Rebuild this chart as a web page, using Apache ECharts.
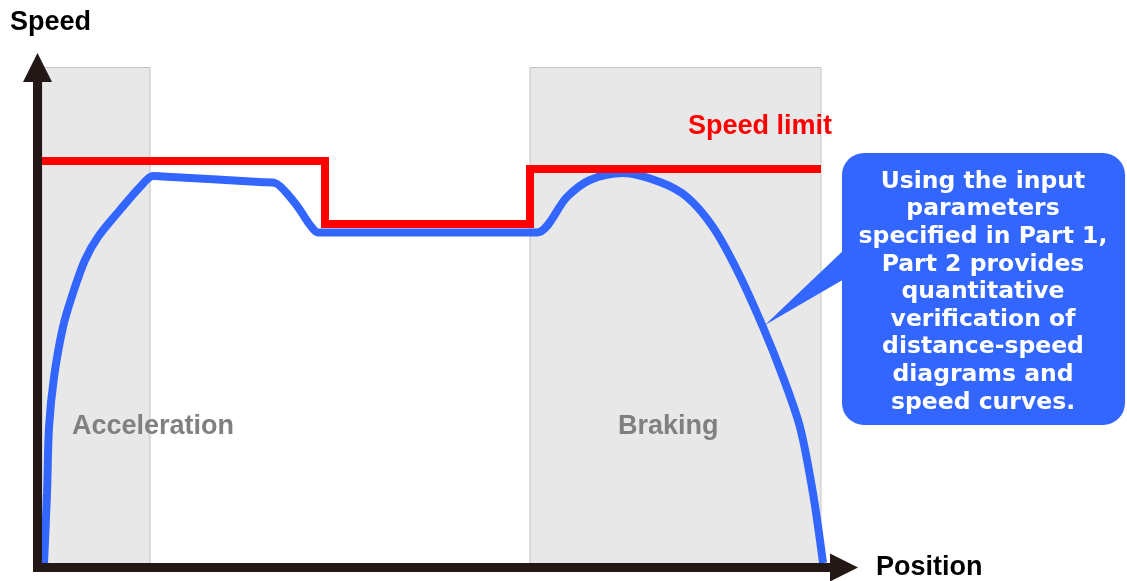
<!DOCTYPE html>
<html>
<head>
<meta charset="utf-8">
<script src="https://cdn.jsdelivr.net/npm/echarts@6/dist/echarts.min.js"></script>
<style>
html,body{margin:0;padding:0;background:#fff;}
#chart{width:1127px;height:581px;}
</style>
</head>
<body>
<div id="chart"></div>
<script>
// Speed limit (step line): position vs speed
const limitPos   = [0.56, 35.65, 35.65, 61.07, 61.07, 97.15];
const limitSpeed = [81.3, 81.3, 68.7, 68.7, 79.7, 79.7];

// Speed curve (blue)
const curvePos   = [0.81, 1.18, 1.43, 2.05, 3.16, 4.40, 5.89, 7.50, 10.23, 12.71, 14.32, 15.5, 28.0, 29.45, 31.31, 32.55, 33.79, 34.78, 40.0, 57.0, 61.93, 65.65, 68.50, 72.60, 77.18, 80.53, 83.75, 86.73, 89.95, 92.43, 94.54, 96.15, 97.40];
const curveSpeed = [0.9, 14.9, 28.1, 38.1, 48.1, 54.9, 61.5, 66.1, 71.5, 76.1, 78.3, 78.2, 77.05, 76.9, 74.1, 71.5, 68.5, 67.0, 67.0, 67.0, 67.0, 74.1, 77.5, 78.9, 77.1, 74.1, 68.1, 59.5, 48.1, 38.1, 28.1, 14.9, 0.9];

// Shaded zones
const zoneStart  = [0.56, 61.07];
const zoneEnd    = [13.95, 97.15];
const zoneLabels = ['Acceleration', 'Braking'];

const axisNames = ['Position', 'Speed'];
const limitLabel = 'Speed limit';
const calloutLines = [
  'Using the input',
  'parameters',
  'specified in Part 1,',
  'Part 2 provides',
  'quantitative',
  'verification of',
  'distance-speed',
  'diagrams and',
  'speed curves.'
];

const chart = echarts.init(document.getElementById('chart'), null, {renderer: 'canvas'});
const LAB_FONT = '"Liberation Sans", Arial, sans-serif';
const BLUE = '#3366FF';
const AXIS_COLOR = '#231815';

const option = {
  animation: false,
  backgroundColor: '#ffffff',
  grid: {left: 37.5, right: 283, top: 67.5, bottom: 13.5, containLabel: false},
  xAxis: {
    type: 'value', min: 0, max: 100, z: 10,
    name: axisNames[0], nameLocation: 'end', nameGap: 32,
    nameTextStyle: {color: '#000', fontSize: 27, fontWeight: 'bold', fontFamily: LAB_FONT, align: 'left', verticalAlign: 'middle'},
    axisLine: {show: true, onZero: false, symbol: ['none', 'triangle'], symbolSize: [28, 28],
      lineStyle: {color: AXIS_COLOR, width: 9, cap: 'square'}},
    axisTick: {show: false}, axisLabel: {show: false}, splitLine: {show: false}
  },
  yAxis: {
    type: 'value', min: 0, max: 100, z: 10,
    axisLine: {show: true, onZero: false, symbol: ['none', 'triangle'], symbolSize: [29, 29],
      lineStyle: {color: AXIS_COLOR, width: 9, cap: 'square'}},
    axisTick: {show: false}, axisLabel: {show: false}, splitLine: {show: false}
  },
  series: [
    {
      type: 'line', data: [], z: 1, silent: true,
      markArea: {
        silent: true,
        itemStyle: {color: '#e8e8e8', borderColor: '#c4c4c4', borderWidth: 1, opacity: 1},
        label: {show: false},
        data: zoneStart.map((s, i) => [{coord: [s, 0]}, {coord: [zoneEnd[i], 100]}])
      }
    },
    {
      type: 'line', name: 'Speed limit', z: 4, silent: true,
      data: limitPos.map((p, i) => [p, limitSpeed[i]]),
      showSymbol: false, symbol: 'none',
      lineStyle: {color: '#ff0000', width: 8, join: 'miter', cap: 'butt'}
    },
    {
      type: 'line', name: 'Speed', z: 3, silent: true,
      data: curvePos.map((p, i) => [p, curveSpeed[i]]),
      showSymbol: false, symbol: 'none', smooth: 0.3,
      lineStyle: {color: BLUE, width: 8, cap: 'butt'}
    }
  ]
};
chart.setOption(option);

// annotations
const tip = chart.convertToPixel({gridIndex: 0}, [90.2, 48.5]);
const zoneTextX = [72, 618];
chart.setOption({
  graphic: [
    {type: 'text', z: 20, style: {text: axisNames[1], x: 10, y: 23, fill: '#000', fontSize: 27, fontWeight: 'bold', fontFamily: LAB_FONT, align: 'left', verticalAlign: 'middle'}},
    {type: 'text', z: 20, style: {text: limitLabel, x: 688, y: 127, fill: '#ff0000', fontSize: 27, fontWeight: 'bold', fontFamily: LAB_FONT, align: 'left', verticalAlign: 'middle'}},
    {type: 'text', z: 20, style: {text: zoneLabels[0], x: zoneTextX[0], y: 427, fill: '#808080', fontSize: 27, fontWeight: 'bold', fontFamily: LAB_FONT, align: 'left', verticalAlign: 'middle'}},
    {type: 'text', z: 20, style: {text: zoneLabels[1], x: zoneTextX[1], y: 427, fill: '#808080', fontSize: 27, fontWeight: 'bold', fontFamily: LAB_FONT, align: 'left', verticalAlign: 'middle'}},
    {type: 'polygon', z: 20, shape: {points: [[846, 248], [846, 278], tip]}, style: {fill: BLUE}},
    {type: 'rect', z: 20, shape: {x: 842, y: 153, width: 283, height: 272, r: 22}, style: {fill: BLUE}},
    {type: 'text', z: 21, style: {text: calloutLines.join('\n'), x: 983, y: 292, fill: '#ffffff', fontSize: 23.5, fontWeight: 'bold', fontFamily: '"DejaVu Sans", sans-serif', align: 'center', verticalAlign: 'middle', lineHeight: 27.6}}
  ]
});
</script>
</body>
</html>
